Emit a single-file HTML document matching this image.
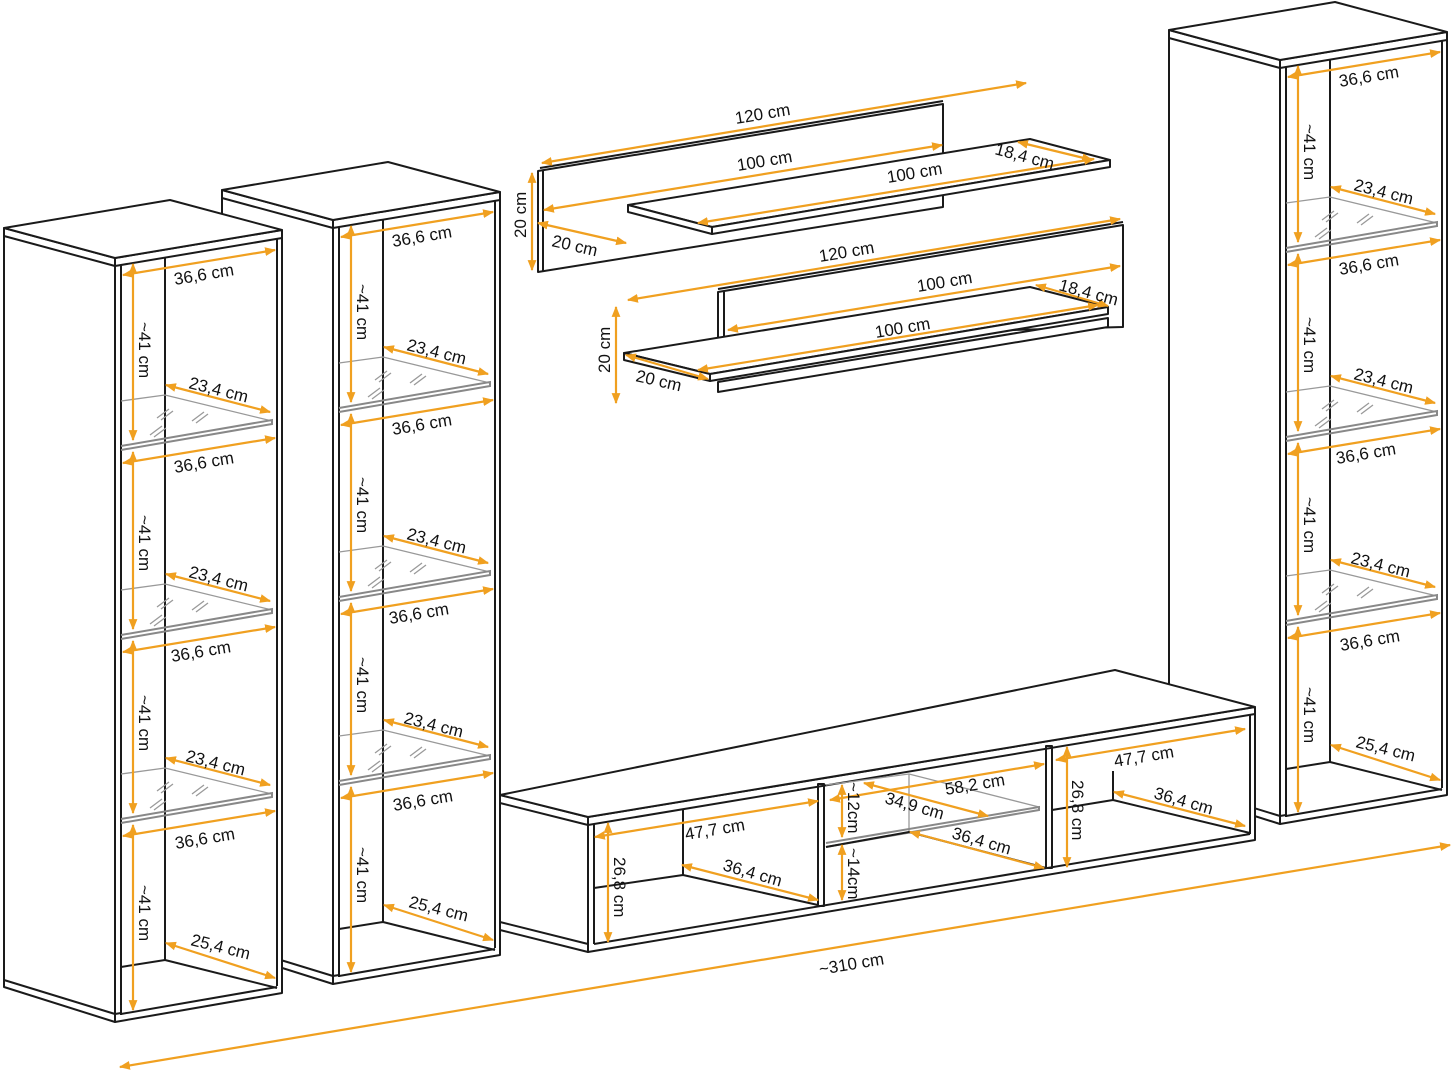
<!DOCTYPE html>
<html><head><meta charset="utf-8"><style>
html,body{margin:0;padding:0;background:#fff}
svg{display:block}
text{font-family:"Liberation Sans",sans-serif;font-size:17px;fill:#111}
.k{stroke:#1a1a1a;stroke-width:2;fill:none;stroke-linejoin:round}
.w{stroke:#1a1a1a;stroke-width:2;fill:#fff;stroke-linejoin:round}
.g{stroke:#888;stroke-width:2;fill:none}
.gt{stroke:#999;stroke-width:1.3;fill:none}
.o{stroke:#f0a020;stroke-width:2.2;fill:none;marker-start:url(#a);marker-end:url(#a)}
</style></head><body>
<svg width="1454" height="1073" viewBox="0 0 1454 1073" xmlns="http://www.w3.org/2000/svg">
<defs>
<marker id="a" viewBox="0 0 10 10" refX="9" refY="5" markerWidth="5" markerHeight="5" orient="auto-start-reverse" markerUnits="strokeWidth"><path d="M0,1 L10,5 L0,9 z" fill="#f0a020"/></marker>
<g id="cab">
  <polygon class="w" points="4,228 115,258 115,1022 4,987"/>
  <polygon class="w" points="115,258 282,230 282,993 115,1022"/>
  <polygon class="w" points="4,228 170,200 282,230 115,258"/>
  <polyline class="k" points="4,236 115,266 282,238"/>
  <line class="k" x1="121" y1="265" x2="121" y2="1015"/>
  <line class="k" x1="277" y1="238" x2="277" y2="986"/>
  <line class="k" x1="165" y1="258" x2="165" y2="960"/>
  <polyline class="k" points="121,967 165,960 277,988"/>
  <polyline class="k" points="4,980 115,1014 121,1013"/>
  <polyline class="k" points="121,1014 277,987"/>
  <g id="sh">
    <polyline class="gt" points="121,401 165,395 272,421"/>
    <polyline class="g" points="121,446 272,420 272,424 121,450"/>
    <line class="gt" x1="150" y1="435" x2="162" y2="426"/><line class="gt" x1="154" y1="437" x2="166" y2="428"/>
    <line class="gt" x1="157" y1="418" x2="169" y2="409"/><line class="gt" x1="161" y1="420" x2="173" y2="411"/>
    <line class="gt" x1="192" y1="421" x2="204" y2="412"/><line class="gt" x1="196" y1="423" x2="208" y2="414"/>
    <line class="o" x1="166" y1="385" x2="270" y2="412"/>
  </g>
  <use href="#sh" transform="translate(0,189)"/>
  <use href="#sh" transform="translate(0,373)"/>
  <line class="o" x1="123" y1="275" x2="275" y2="250"/>
  <line class="o" x1="123" y1="463" x2="275" y2="438"/>
  <line class="o" x1="123" y1="652" x2="275" y2="627"/>
  <line class="o" x1="123" y1="836" x2="275" y2="811"/>
  <line class="o" x1="166" y1="943" x2="275" y2="978"/>
  <line class="o" x1="133" y1="264" x2="133" y2="440"/>
  <line class="o" x1="133" y1="452" x2="133" y2="629"/>
  <line class="o" x1="133" y1="641" x2="133" y2="813"/>
  <line class="o" x1="133" y1="825" x2="133" y2="1010"/>
  <text transform="translate(175,285) rotate(-9.5)">36,6 cm</text>
  <text transform="translate(175,473) rotate(-9.5)">36,6 cm</text>
  <text transform="translate(172,662) rotate(-9.5)">36,6 cm</text>
  <text transform="translate(176,849) rotate(-9.5)">36,6 cm</text>
  <text transform="translate(188,388) rotate(14)">23,4 cm</text>
  <text transform="translate(188,577) rotate(14)">23,4 cm</text>
  <text transform="translate(185,761) rotate(14)">23,4 cm</text>
  <text transform="translate(190,945) rotate(14)">25,4 cm</text>
  <text transform="translate(139,322) rotate(90)">~41 cm</text>
  <text transform="translate(139,515) rotate(90)">~41 cm</text>
  <text transform="translate(139,695) rotate(90)">~41 cm</text>
  <text transform="translate(139,885) rotate(90)">~41 cm</text>
</g>
</defs>

<use href="#cab" transform="translate(1165,-198)"/>

<polygon class="w" points="500,795 588,817 588,952 500,930"/>
<polygon class="w" points="588,817 1255,707 1255,840 588,952"/>
<polygon class="w" points="500,795 1115,670 1255,707 588,817"/>
<polyline class="k" points="500,803 588,825 1255,714"/>
<polyline class="k" points="500,922 588,944"/>
<line class="k" x1="594" y1="824" x2="594" y2="944"/>
<line class="k" x1="1250" y1="714" x2="1250" y2="834"/>
<line class="k" x1="594" y1="944" x2="1250" y2="834"/>
<rect x="818" y="784" width="6" height="122" class="k"/>
<rect x="1046" y="746" width="6" height="122" class="k"/>
<line class="k" x1="683" y1="809" x2="683" y2="875"/>
<polyline class="k" points="594,888 683,875 818,905"/>
<line class="k" x1="1113" y1="771" x2="1113" y2="800"/>
<polyline class="k" points="1052,810 1113,800 1250,833"/>
<line class="gt" x1="909" y1="774" x2="909" y2="832"/>
<polyline class="gt" points="826,785 909,774 1039,807"/>
<polyline class="g" points="826,843 1039,807 1039,810 826,847"/>
<polyline class="k" points="826,847 909,832 1046,868"/>
<line class="o" x1="595" y1="837" x2="818" y2="801"/>
<line class="o" x1="608" y1="823" x2="608" y2="942"/>
<line class="o" x1="682" y1="865" x2="818" y2="900"/>
<line class="o" x1="842" y1="785" x2="842" y2="837"/>
<line class="o" x1="842" y1="845" x2="842" y2="900"/>
<line class="o" x1="830" y1="800" x2="1044" y2="764"/>
<line class="o" x1="864" y1="783" x2="988" y2="816"/>
<line class="o" x1="910" y1="832" x2="1044" y2="868"/>
<line class="o" x1="1056" y1="760" x2="1245" y2="729"/>
<line class="o" x1="1067" y1="747" x2="1067" y2="867"/>
<line class="o" x1="1114" y1="792" x2="1245" y2="826"/>
<text transform="translate(686,840) rotate(-9.5)">47,7 cm</text>
<text transform="translate(614,857) rotate(90)">26,8 cm</text>
<text transform="translate(722,870) rotate(16)">36,4 cm</text>
<text transform="translate(848,782) rotate(90)">~12cm</text>
<text transform="translate(848,848) rotate(90)">~14cm</text>
<text transform="translate(946,795) rotate(-9.5)">58,2 cm</text>
<text transform="translate(884,803) rotate(16)">34,9 cm</text>
<text transform="translate(951,838) rotate(16)">36,4 cm</text>
<text transform="translate(1115,767) rotate(-9.5)">47,7 cm</text>
<text transform="translate(1072,780) rotate(90)">26,8 cm</text>
<text transform="translate(1153,798) rotate(16)">36,4 cm</text>

<use href="#cab" transform="translate(218,-38)"/>
<use href="#cab"/>

<polygon class="w" points="538,171 943,104 943,207 538,272"/>
<line class="k" x1="543" y1="171" x2="543" y2="271"/>
<line class="k" x1="540" y1="168" x2="943" y2="101"/>
<polygon class="w" points="628,205 1030,139 1110,160 712,227"/>
<polygon class="w" points="628,205 712,227 712,234 628,212"/>
<polygon class="w" points="712,227 1110,160 1110,167 712,234"/>
<line class="o" x1="542" y1="163" x2="1026" y2="83"/>
<line class="o" x1="544" y1="210" x2="942" y2="145"/>
<line class="o" x1="698" y1="223" x2="1094" y2="159"/>
<line class="o" x1="1018" y1="142" x2="1092" y2="160"/>
<line class="o" x1="532" y1="173" x2="532" y2="270"/>
<line class="o" x1="538" y1="223" x2="626" y2="243"/>
<text transform="translate(736,124) rotate(-9.5)">120 cm</text>
<text transform="translate(738,171) rotate(-9.5)">100 cm</text>
<text transform="translate(888,183) rotate(-9.5)">100 cm</text>
<text transform="translate(994,154) rotate(15)">18,4 cm</text>
<text transform="translate(526,238) rotate(-90)">20 cm</text>
<text transform="translate(551,246) rotate(13)">20 cm</text>

<polygon class="w" points="718,292 1123,225 1123,327 718,338"/>
<line class="k" x1="724" y1="291" x2="724" y2="337"/>
<line class="k" x1="718" y1="289" x2="1123" y2="222"/>
<polygon class="w" points="718,382 1108,318 1108,327 718,392"/>
<polygon class="w" points="624,353 1030,287 1108,307 710,374"/>
<polygon class="w" points="624,353 710,374 710,381 624,360"/>
<polygon class="w" points="710,374 1108,307 1108,314 710,381"/>
<line class="o" x1="628" y1="300" x2="1120" y2="219"/>
<line class="o" x1="728" y1="330" x2="1120" y2="266"/>
<line class="o" x1="698" y1="370" x2="1098" y2="305"/>
<line class="o" x1="1036" y1="285" x2="1108" y2="306"/>
<line class="o" x1="616" y1="307" x2="616" y2="403"/>
<line class="o" x1="626" y1="355" x2="708" y2="379"/>
<text transform="translate(820,262) rotate(-9.5)">120 cm</text>
<text transform="translate(918,292) rotate(-9.5)">100 cm</text>
<text transform="translate(876,338) rotate(-9.5)">100 cm</text>
<text transform="translate(1058,290) rotate(15)">18,4 cm</text>
<text transform="translate(610,373) rotate(-90)">20 cm</text>
<text transform="translate(635,381) rotate(13)">20 cm</text>

<line class="o" x1="120" y1="1067" x2="1450" y2="845"/>
<text transform="translate(820,975) rotate(-9.5)">~310 cm</text>
</svg>
</body></html>
